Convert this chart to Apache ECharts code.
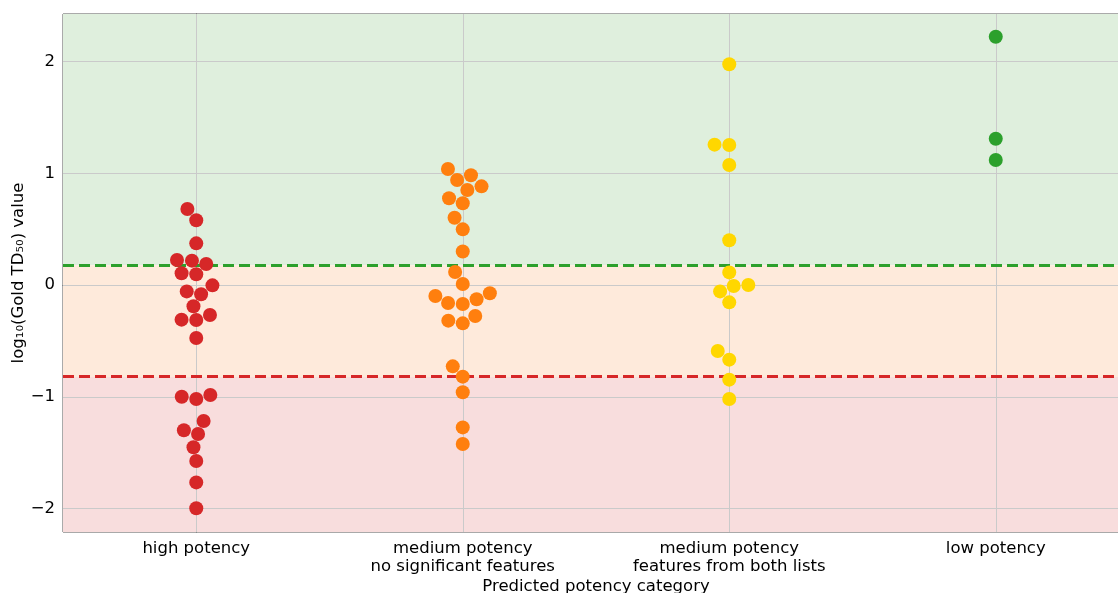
<!DOCTYPE html>
<html><head><meta charset="utf-8">
<script src="https://cdn.jsdelivr.net/npm/echarts@6/dist/echarts.min.js"></script>
<style>html,body{margin:0;padding:0;background:#fff}#c{width:1118px;height:593px}</style>
</head><body><div id="c"></div>
<script>
const categories = ['high potency', 'medium potency\nno significant features', 'medium potency\nfeatures from both lists', 'low potency'];
const highPotency = [0.68, 0.58, 0.373, 0.224, 0.218, 0.188, 0.105, 0.096, -0.003, -0.057, -0.083, -0.19, -0.31, -0.313, -0.268, -0.474,
  -1.0, -1.02, -0.984, -1.217, -1.3, -1.333, -1.452, -1.575, -1.766, -1.998];
const mediumNoFeatures = [1.038, 0.94, 0.982, 0.85, 0.883, 0.776, 0.731, 0.602, 0.498, 0.30, 0.116, 0.009, -0.098, -0.161, -0.17, -0.128, -0.074, -0.319, -0.343, -0.277,
  -0.728, -0.82, -0.96, -1.274, -1.423];
const mediumBothLists = [1.975, 1.256, 1.253, 1.074, 0.40, 0.113, -0.009, 0.0, -0.057, -0.155, -0.59, -0.668, -0.847, -1.02];
const lowPotency = [2.222, 1.309, 1.119];
const groups = [highPotency, mediumNoFeatures, mediumBothLists, lowPotency];
const colors = ['#d62728', '#ff7f0e', '#ffd700', '#2ca02c'];
const yTicks = [-2, -1, 0, 1, 2];
const thresholdLow = Math.log10(0.15);   // red dashed
const thresholdHigh = Math.log10(1.5);   // green dashed
const yRange = [-2.21, 2.425];
const xRange = [-0.5, 3.5];

const chart = echarts.init(document.getElementById('c'), null, {renderer: 'canvas'});
const FONT = 'DejaVu Sans';
const FS = 16.5;
const MARKER = 14;
const GRID_COLOR = '#cacaca';

function buildSeries(xs) {
  const pts = groups.map((vals, i) => ({
    type: 'scatter', xAxisIndex: 1, yAxisIndex: 0, z: 5,
    symbolSize: MARKER,
    itemStyle: {color: colors[i], opacity: 1},
    emphasis: {disabled: true},
    data: vals.map((v, k) => [xs ? xs[i][k] : i, v])
  }));
  const bg = {
    type: 'scatter', xAxisIndex: 1, yAxisIndex: 0, z: 1, data: [], silent: true,
    markArea: {
      silent: true,
      data: [
        [{yAxis: thresholdHigh, itemStyle: {color: '#dfefdd'}}, {yAxis: yRange[1]}],
        [{yAxis: thresholdLow, itemStyle: {color: '#feeadb'}}, {yAxis: thresholdHigh}],
        [{yAxis: yRange[0], itemStyle: {color: '#f8dddd'}}, {yAxis: thresholdLow}]
      ]
    },
    markLine: {
      silent: true, symbol: 'none', label: {show: false}, animation: false,
      data: [0, 1, 2, 3].map(x => ({xAxis: x, lineStyle: {color: GRID_COLOR, width: 1, type: 'solid'}}))
        .concat(yTicks.map(y => ({yAxis: y, lineStyle: {color: GRID_COLOR, width: 1, type: 'solid'}})))
        .concat([
          {yAxis: thresholdHigh, lineStyle: {color: '#2ca02c', width: 3, type: [11, 5]}},
          {yAxis: thresholdLow, lineStyle: {color: '#d62728', width: 3, type: [11, 5]}}
        ])
    }
  };
  return [bg].concat(pts);
}

const option = {
  animation: false,
  backgroundColor: '#ffffff',
  grid: {left: 63, top: 14, width: 1066, height: 518, outerBoundsMode: 'none', containLabel: false,
    show: true, borderColor: '#555', borderWidth: 1, backgroundColor: 'transparent'},
  xAxis: [
    {
      type: 'category', data: categories, boundaryGap: true,
      axisLine: {show: true, lineStyle: {color: '#555'}},
      axisTick: {show: true, alignWithLabel: true, length: 5, lineStyle: {color: '#555'}},
      splitLine: {show: false},
      axisLabel: {color: '#000', fontFamily: FONT, fontSize: FS, lineHeight: 18.5, margin: 7},
      name: 'Predicted potency category', nameLocation: 'middle', nameGap: 46, nameMoveOverlap: false,
      nameTextStyle: {color: '#000', fontFamily: FONT, fontSize: FS}
    },
    {type: 'value', min: xRange[0], max: xRange[1], show: false}
  ],
  yAxis: {
    type: 'value', min: yRange[0], max: yRange[1], splitNumber: 5,
    axisLine: {show: true, lineStyle: {color: '#555'}},
    axisTick: {show: true, length: 5, lineStyle: {color: '#555'}},
    splitLine: {show: false},
    axisLabel: {
      color: '#000', fontFamily: FONT, fontSize: FS, margin: 8,
      showMinLabel: false, showMaxLabel: false,
      formatter: v => Math.abs(v - Math.round(v)) < 1e-9 ? String(Math.round(v)).replace('-', '\u2212') : ''
    },
    name: 'log\u2081\u2080(Gold TD\u2085\u2080) value', nameLocation: 'middle', nameGap: 36, nameMoveOverlap: false,
    nameTextStyle: {color: '#000', fontFamily: FONT, fontSize: FS}
  },
  series: buildSeries(null)
};
chart.setOption(option);

// Beeswarm layout (seaborn-like) computed in pixel space through the chart's own scales
function swarmGroup(vals, catIdx, seriesIndex) {
  const r = MARKER / 2;
  const center = chart.convertToPixel({seriesIndex}, [catIdx, 0])[0];
  const pts = vals.map((v, k) => ({k, v, py: chart.convertToPixel({seriesIndex}, [catIdx, v])[1]}));
  const order = pts.slice().sort((a, b) => b.py - a.py);
  const placed = [];
  for (const p of order) {
    const neigh = placed.filter(q => Math.abs(q.py - p.py) < 2 * r);
    const cands = [center];
    let leftFirst = true;
    for (const q of neigh) {
      const dy = p.py - q.py;
      const dx = Math.sqrt(Math.max(4 * r * r - dy * dy, 0)) * 1.05;
      if (leftFirst) cands.push(q.px - dx, q.px + dx); else cands.push(q.px + dx, q.px - dx);
      leftFirst = !leftFirst;
    }
    const sorted = cands.map((x, i) => ({x, i})).sort((a, b) => (Math.abs(a.x - center) - Math.abs(b.x - center)) || (a.i - b.i));
    let chosen = center;
    for (const c of sorted) {
      const ok = neigh.every(q => (c.x - q.px) ** 2 + (p.py - q.py) ** 2 >= 4 * r * r - 1e-6);
      if (ok) { chosen = c.x; break; }
    }
    p.px = chosen;
    placed.push(p);
  }
  return pts.map(p => chart.convertFromPixel({seriesIndex}, [p.px, p.py])[0]);
}
const xs = groups.map((vals, i) => swarmGroup(vals, i, i + 1));
chart.setOption({series: buildSeries(xs)});
</script>
</body></html>
